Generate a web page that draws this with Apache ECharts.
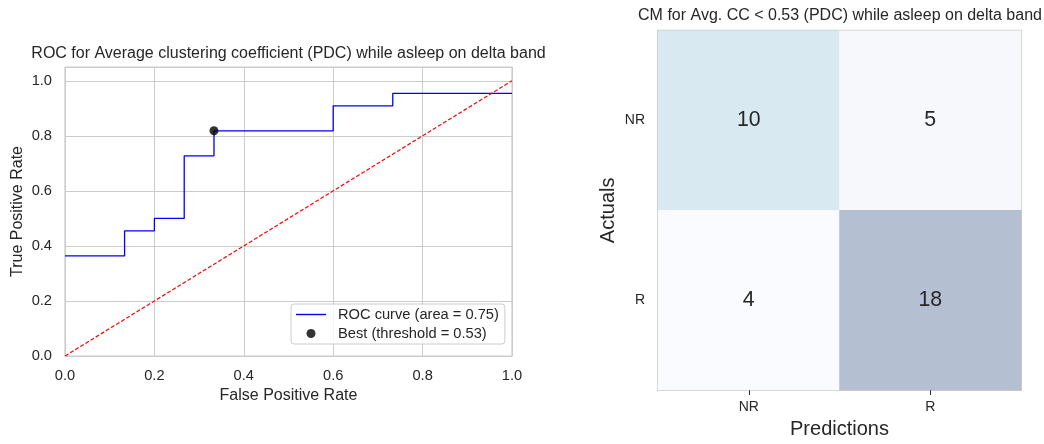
<!DOCTYPE html>
<html>
<head>
<meta charset="utf-8">
<script src="https://cdn.jsdelivr.net/npm/echarts@6/dist/echarts.min.js"></script>
<style>
html,body{margin:0;padding:0;background:#fff;}
#chart{width:1044px;height:444px;}
</style>
</head>
<body>
<div id="chart"></div>
<script>
// ROC curve (step vertices)
const fpr = [0.0, 0.1333, 0.1333, 0.2, 0.2, 0.2667, 0.2667, 0.3333, 0.3333, 0.6, 0.6, 0.7333, 0.7333, 1.0];
const tpr = [0.3636, 0.3636, 0.4545, 0.4545, 0.5, 0.5, 0.7273, 0.7273, 0.8182, 0.8182, 0.9091, 0.9091, 0.9545, 0.9545];
const chanceX = [0, 1];
const chanceY = [0, 1];
const bestPoint = [0.3333, 0.8182];
const rocLabel = 'ROC curve (area = 0.75)';
const bestLabel = 'Best (threshold = 0.53)';
const xTicks = [0, 0.2, 0.4, 0.6, 0.8, 1.0];
const yTicks = [0, 0.2, 0.4, 0.6, 0.8, 1.0];

// Confusion matrix
const cmPred = ['NR', 'R'];
const cmActual = ['NR', 'R'];
const cmValues = [[10, 5], [4, 18]]; // rows: actual, cols: predicted

const FONT = "'Liberation Sans', Arial, sans-serif";
const TXT = '#262626';

const rocData = fpr.map((x, i) => [x, tpr[i]]);
const chanceData = chanceX.map((x, i) => [x, chanceY[i]]);
const heatData = [];
cmValues.forEach((row, r) => row.forEach((v, c) => heatData.push([c, r, v])));

const isTick = (arr, v) => arr.some(t => Math.abs(t - v) < 1e-6);

const chart = echarts.init(document.getElementById('chart'));
chart.setOption({
  backgroundColor: '#fff',
  animation: false,
  textStyle: { fontFamily: FONT, color: TXT },
  title: [
    { text: 'ROC for Average clustering coefficient (PDC) while asleep on delta band',
      left: 288.5, top: 46, textAlign: 'center', padding: 0,
      textStyle: { fontFamily: FONT, fontSize: 16, fontWeight: 'normal', color: TXT } },
    { text: 'CM for Avg. CC < 0.53 (PDC) while asleep on delta band',
      left: 840, top: 8, textAlign: 'center', padding: 0,
      textStyle: { fontFamily: FONT, fontSize: 16, fontWeight: 'normal', color: TXT } }
  ],
  legend: {
    left: 291, top: 304, orient: 'vertical',
    data: [
      { name: rocLabel, icon: 'path://M0,0 L30,0 L30,1.4 L0,1.4 Z',
        itemStyle: { color: '#0000ff', borderWidth: 0 } },
      { name: bestLabel, icon: 'circle',
        itemStyle: { color: '#000000', borderWidth: 0 } }
    ],
    itemWidth: 30, itemHeight: 9, itemGap: 4,
    padding: [3, 6, 3, 5],
    backgroundColor: 'rgba(255,255,255,0.8)',
    borderColor: '#cccccc', borderWidth: 1, borderRadius: 3,
    textStyle: { fontFamily: FONT, fontSize: 14.67, color: TXT, padding: [0, 0, 0, 7] }
  },
  grid: [
    { left: 65, right: 532, top: 67, bottom: 88, show: true, borderColor: '#cccccc', borderWidth: 1.25, backgroundColor: '#fff' },
    { left: 658, right: 23, top: 30.7, bottom: 51.3, show: true, borderColor: '#cccccc', borderWidth: 2 }
  ],
  xAxis: [
    { type: 'value', gridIndex: 0, min: 0, max: 1, interval: 0.2,
      name: 'False Positive Rate', nameLocation: 'middle', nameGap: 30,
      nameTextStyle: { fontFamily: FONT, fontSize: 16, color: TXT },
      axisLine: { show: false }, axisTick: { show: false },
      axisLabel: { margin: 12, fontSize: 14.67, color: TXT, fontFamily: FONT,
        formatter: v => isTick(xTicks, v) ? v.toFixed(1) : '' },
      splitLine: { show: true, lineStyle: { color: '#cccccc', width: 1 } } },
    { type: 'category', gridIndex: 1, data: cmPred,
      name: 'Predictions', nameLocation: 'middle', nameGap: 29,
      nameTextStyle: { fontFamily: FONT, fontSize: 20, color: TXT },
      axisLine: { show: false },
      axisTick: { show: true, alignWithLabel: true, length: 5, lineStyle: { color: TXT, width: 1 } },
      axisLabel: { margin: 10, fontSize: 14, color: TXT, fontFamily: FONT },
      splitLine: { show: false } }
  ],
  yAxis: [
    { type: 'value', gridIndex: 0, min: 0, max: 1.05, interval: 0.2,
      name: 'True Positive Rate', nameLocation: 'middle', nameGap: 39,
      nameTextStyle: { fontFamily: FONT, fontSize: 16, color: TXT },
      axisLine: { show: false }, axisTick: { show: false },
      axisLabel: { margin: 13, fontSize: 14.67, color: TXT, fontFamily: FONT,
        formatter: v => isTick(yTicks, v) ? v.toFixed(1) : '' },
      splitLine: { show: true, lineStyle: { color: '#cccccc', width: 1 } } },
    { type: 'category', gridIndex: 1, data: cmActual, inverse: true,
      name: 'Actuals', nameLocation: 'middle', nameGap: 40,
      nameTextStyle: { fontFamily: FONT, fontSize: 20, color: TXT },
      axisLine: { show: false }, axisTick: { show: false },
      axisLabel: { margin: 13, fontSize: 14, color: TXT, fontFamily: FONT },
      splitLine: { show: false } }
  ],
  visualMap: {
    show: false, type: 'piecewise', seriesIndex: 3, dimension: 2,
    pieces: [
      { value: 4, color: '#f9fbfe' },
      { value: 5, color: '#f6f8fc' },
      { value: 10, color: '#d9e9f1' },
      { value: 18, color: '#b4bfd2' }
    ]
  },
  series: [
    { name: rocLabel, type: 'line', xAxisIndex: 0, yAxisIndex: 0, data: rocData,
      symbol: 'none', showSymbol: false, lineStyle: { color: '#0000ff', width: 1.3 },
      itemStyle: { color: '#0000ff' }, z: 3 },
    { name: 'chance', type: 'line', xAxisIndex: 0, yAxisIndex: 0, data: chanceData,
      symbol: 'none', showSymbol: false,
      lineStyle: { color: '#ff0000', width: 1.2, type: [4, 2] }, z: 4 },
    { name: bestLabel, type: 'scatter', xAxisIndex: 0, yAxisIndex: 0, data: [bestPoint],
      symbol: 'circle', symbolSize: 9, itemStyle: { color: '#000000' }, z: 5 },
    { name: 'cm', type: 'heatmap', xAxisIndex: 1, yAxisIndex: 1, data: heatData,
      label: { show: true, fontSize: 21.3, color: TXT, fontFamily: FONT },
      itemStyle: { borderWidth: 0 } }
  ]
});
</script>
</body>
</html>
